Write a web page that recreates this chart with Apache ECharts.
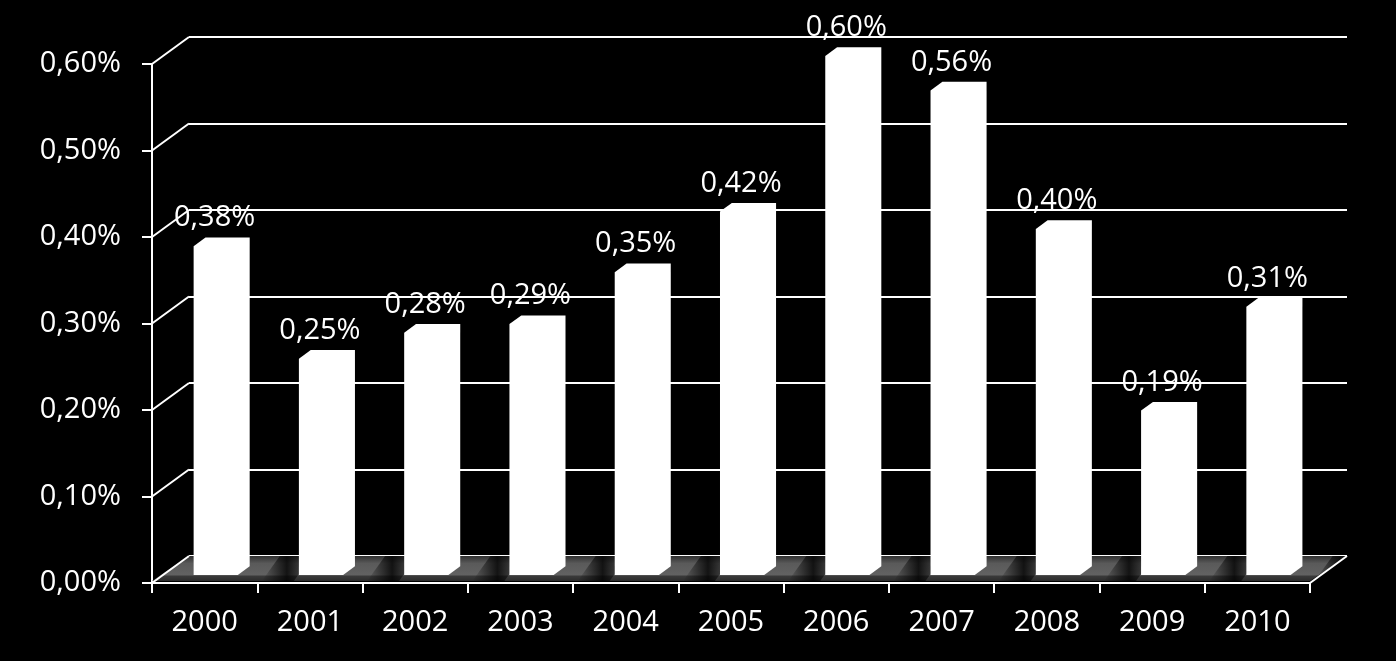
<!DOCTYPE html>
<html>
<head>
<meta charset="utf-8">
<script src="https://cdn.jsdelivr.net/npm/echarts@6/dist/echarts.min.js"></script>
<style>
html,body{margin:0;padding:0;background:#000;}
#chart{width:1396px;height:661px;}
</style>
</head>
<body>
<div id="chart"></div>
<script>
// ---- data ----
const categories = ['2000','2001','2002','2003','2004','2005','2006','2007','2008','2009','2010'];
const values = [0.38, 0.25, 0.28, 0.29, 0.35, 0.42, 0.60, 0.56, 0.40, 0.19, 0.31];
const yTicks = [0, 0.1, 0.2, 0.3, 0.4, 0.5, 0.6];

// ---- style / geometry ----
const FONT = '"Open Sans", "DejaVu Sans", sans-serif';
const FS = 29;
const DX = 37, DY = -27;       // depth offset of the back wall
const D0 = 0.3, D1 = 0.62;     // bar depth (front, back) as fraction
const fmt = v => v.toFixed(2).replace('.', ',') + '%';

const chart = echarts.init(document.getElementById('chart'), null, {renderer: 'canvas'});

function renderFloor(params, api) {
  const cs = params.coordSys;
  const x0 = cs.x, x1 = cs.x + cs.width, y0 = cs.y + cs.height;
  const fy = y0 - 2;
  return {
    type: 'group',
    children: [
      {
        type: 'polygon',
        shape: {points: [[x0, fy], [x1, fy], [x1 + DX, y0 + DY], [x0 + DX, y0 + DY]]},
        style: {
          fill: new echarts.graphic.LinearGradient(0, 0, 0, 1, [
            {offset: 0, color: '#303030'},
            {offset: 0.3, color: '#5a5a5a'},
            {offset: 0.76, color: '#626262'},
            {offset: 0.8, color: '#3a3a3a'},
            {offset: 1, color: '#2c2c2c'}
          ])
        },
        silent: true
      }
    ]
  };
}

function renderFrame(params, api) {
  const cs = params.coordSys;
  const v = api.value(0);
  const p = api.coord([0, v]);
  const x0 = cs.x;
  const children = [{
    type: 'line',
    shape: {x1: x0, y1: p[1], x2: x0 + DX, y2: p[1] + DY},
    style: {stroke: '#ffffff', lineWidth: 2}
  }];
  if (v === 0) {
    const x1 = cs.x + cs.width;
    children.push({
      type: 'line',
      shape: {x1: x1, y1: p[1], x2: x1 + DX, y2: p[1] + DY},
      style: {stroke: '#ffffff', lineWidth: 2}
    });
  }
  return {type: 'group', children: children};
}

function renderShadow(params, api) {
  const i = api.value(0);
  const base = api.coord([i, 0]);
  const bw = api.size([1, 0])[0];
  const fw = bw * 0.42;
  const xr = base[0] - fw / 2 + D0 * DX + fw;
  const yb = base[1] - 2;
  const yt = base[1] + DY;
  const s = xr + 24, w = 32, sh = 18;
  return {
    type: 'polygon',
    shape: {points: [[s, yb], [s + w, yb], [s + w + sh, yt], [s + sh, yt]]},
    style: {
      fill: new echarts.graphic.LinearGradient(0, 0, 1, 0, [
        {offset: 0, color: 'rgba(0,0,0,0)'},
        {offset: 0.5, color: 'rgba(0,0,0,0.8)'},
        {offset: 1, color: 'rgba(0,0,0,0)'}
      ])
    },
    silent: true
  };
}

function renderBar(params, api) {
  const i = api.value(0), v = api.value(1);
  const base = api.coord([i, 0]);
  const top = api.coord([i, v]);
  const bw = api.size([1, 0])[0];
  const fw = bw * 0.42;
  const xl = base[0] - fw / 2 + D0 * DX, xr = xl + fw;
  const yb = base[1] + D0 * DY, yt = top[1] + D0 * DY;
  const ex = (D1 - D0) * DX, ey = (D1 - D0) * DY;
  return {
    type: 'group',
    children: [
      {
        type: 'polygon',
        shape: {points: [[xl, yb], [xr, yb], [xr + ex, yb + ey], [xr + ex, yt + ey], [xl + ex, yt + ey], [xl, yt]]},
        style: {fill: '#ffffff'}
      },
      {
        type: 'text',
        style: {
          text: fmt(v),
          x: base[0] + 10,
          y: yt - 28,
          align: 'center',
          verticalAlign: 'middle',
          fill: '#ffffff',
          font: FS + 'px ' + FONT
        }
      }
    ]
  };
}

const option = {
  backgroundColor: '#000000',
  animation: false,
  grid: [
    {left: 152, right: 86, top: 64, bottom: 78},
    {left: 152 + DX, right: 86 - DX, top: 64 + DY, bottom: 78 - DY}
  ],
  xAxis: [
    {
      type: 'category', data: categories, gridIndex: 0,
      axisLine: {lineStyle: {color: '#ffffff', width: 2}},
      axisTick: {show: true, interval: 0, length: 10, lineStyle: {color: '#ffffff', width: 2}},
      axisLabel: {color: '#ffffff', fontSize: FS, fontFamily: FONT, margin: 25, interval: 0},
      splitLine: {show: false}
    },
    {
      type: 'category', data: categories, gridIndex: 1, show: false
    }
  ],
  yAxis: [
    {
      type: 'value', gridIndex: 0, min: 0, max: 0.6, interval: 0.1,
      axisLine: {show: true, lineStyle: {color: '#ffffff', width: 2}},
      axisTick: {show: true, length: 10, lineStyle: {color: '#ffffff', width: 2}},
      axisLabel: {color: '#ffffff', fontSize: FS, fontFamily: FONT, margin: 31, formatter: fmt},
      splitLine: {show: false}
    },
    {
      type: 'value', gridIndex: 1, min: 0, max: 0.6, interval: 0.1,
      axisLine: {show: false}, axisTick: {show: false}, axisLabel: {show: false},
      splitLine: {show: true, lineStyle: {color: '#ffffff', width: 2}}
    }
  ],
  series: [
    {
      type: 'custom', name: 'floor', xAxisIndex: 0, yAxisIndex: 0,
      data: [[0, 0]], renderItem: renderFloor, z: 1, silent: true
    },
    {
      type: 'custom', name: 'shadow', xAxisIndex: 0, yAxisIndex: 0,
      data: categories.map((c, i) => [i, values[i]]), renderItem: renderShadow, z: 2, silent: true
    },
    {
      type: 'custom', name: 'frame', xAxisIndex: 0, yAxisIndex: 0,
      data: yTicks.map(v => [v]), encode: {x: -1, y: 0}, renderItem: renderFrame, z: 3, silent: true
    },
    {
      type: 'custom', name: 'bars', xAxisIndex: 0, yAxisIndex: 0,
      data: categories.map((c, i) => [i, values[i]]), renderItem: renderBar, z: 5, silent: true
    }
  ]
};
chart.setOption(option);
</script>
</body>
</html>
